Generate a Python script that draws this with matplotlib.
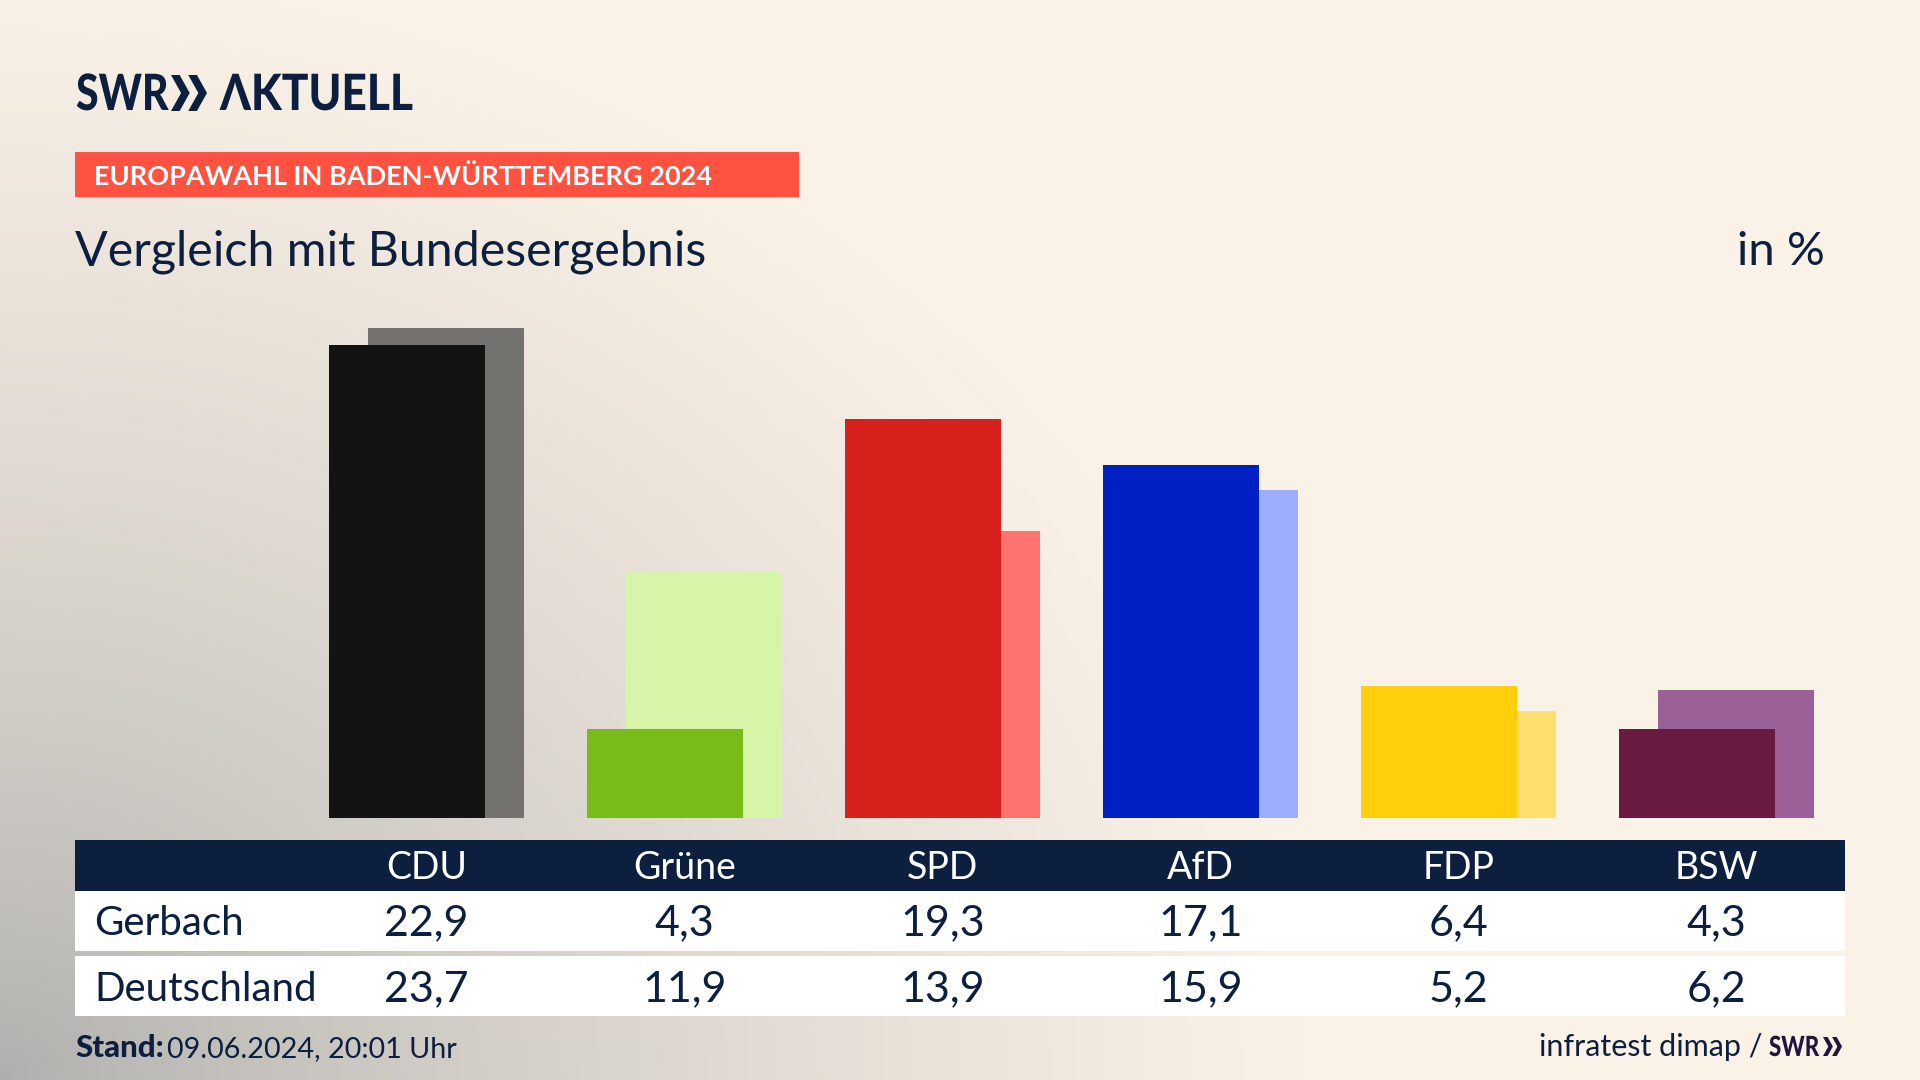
#!/usr/bin/env python3
# SWR Aktuell - Europawahl BW 2024, Gerbach vs. Deutschland

import numpy as np
import matplotlib
matplotlib.use("Agg")
import matplotlib.pyplot as plt
from matplotlib.patches import Rectangle
from matplotlib.patheffects import AbstractPathEffect
from matplotlib.transforms import Affine2D

plt.rcParams["font.family"] = ["Lato", "DejaVu Sans"]

# ----------------------------------------------------------
# DATA
# ----------------------------------------------------------
parties = ["CDU", "Grüne", "SPD", "AfD", "FDP", "BSW"]
gerbach = [22.9, 4.3, 19.3, 17.1, 6.4, 4.3]
deutschland = [23.7, 11.9, 13.9, 15.9, 5.2, 6.2]
colors_front = ["#131313", "#78bc1a", "#d8201d", "#0020c4", "#ffcf0c", "#6a1940"]
colors_back = ["#73726f", "#d7f5a8", "#ff736e", "#9dadff", "#ffe06f", "#9a6097"]
row_names = ["Gerbach", "Deutschland"]

NAVY = "#0c1f3f"
W, H = 1920, 1080
COL0 = 426.7     # px centre of first column
COL_STEP = 258   # px between columns
BASE_Y = 818     # px bar baseline
PX_PER_PCT = 20.66
BAR_W = 156.5


def fmt(v):
    return f"{v:.1f}".replace(".", ",")


class SqueezeX(AbstractPathEffect):
    # Schrift horizontal stauchen (kein Condensed-Font installiert)
    def __init__(self, fx, x0):
        super().__init__()
        self.fx = fx
        self.x0 = x0

    def draw_path(self, renderer, gc, tpath, affine, rgbFace=None):
        squeeze = Affine2D().translate(-self.x0, 0).scale(self.fx, 1).translate(self.x0, 0)
        renderer.draw_path(gc, tpath, affine + squeeze, rgbFace)


fig = plt.figure(figsize=(19.2, 10.8), dpi=100)

# ----------------------------------------------------------
# BACKGROUND
# ----------------------------------------------------------
bg = fig.add_axes([0, 0, 1, 1], zorder=0)
yy, xx = np.mgrid[0:H, 0:W]
d = np.sqrt((xx / 1300) ** 2 + ((H - yy) / 1100) ** 2)
t = np.clip(d, 0, 1)[..., None] ** 0.75
c0 = np.array([0xae, 0xae, 0xac]) / 255
c1 = np.array([0xfb, 0xf2, 0xe7]) / 255
bg.imshow(c0 * (1 - t) + c1 * t, extent=(0, W, H, 0), aspect="auto")
bg.axis("off")

# ----------------------------------------------------------
# BARS
# ----------------------------------------------------------
bars = fig.add_axes([0, 1 - BASE_Y / H, 1, BASE_Y / H], zorder=1)
bars.patch.set_alpha(0)
bars.set_xlim(-COL0 / COL_STEP, (W - COL0) / COL_STEP)
bars.set_ylim(0, BASE_Y / PX_PER_PCT)
x = np.arange(len(parties))
bars.bar(x + 19.5 / COL_STEP, deutschland, width=BAR_W / COL_STEP, color=colors_back)
bars.bar(x - 19.5 / COL_STEP, gerbach, width=BAR_W / COL_STEP, color=colors_front)
bars.axis("off")

# ----------------------------------------------------------
# OVERLAY IN PIXELS
# ----------------------------------------------------------
ax = fig.add_axes([0, 0, 1, 1], zorder=2)
ax.patch.set_alpha(0)
ax.set_xlim(0, W)
ax.set_ylim(H, 0)
ax.axis("off")


def box(x0, y0, x1, y1, color):
    ax.add_patch(Rectangle((x0, y0), x1 - x0, y1 - y0, color=color, lw=0))


def chevrons(x0, y0, h, color):
    # zwei Pfeile des SWR-Logos
    w = h * 0.52
    arm = h * 0.24
    for dx in (0, h * 0.48):
        ax.fill(
            [x0 + dx, x0 + dx + arm, x0 + dx + w, x0 + dx + arm, x0 + dx, x0 + dx + w - arm],
            [y0, y0, y0 + h / 2, y0 + h, y0 + h, y0 + h / 2],
            color=color, lw=0,
        )


# logo
ax.text(76, 110, "SWR", fontsize=36, fontweight="black", color=NAVY,
        path_effects=[SqueezeX(0.82, 76)])
chevrons(171, 75, 36, NAVY)
ax.text(220, 110, "ΛKTUELL", fontsize=36, fontweight="black", color=NAVY,
        path_effects=[SqueezeX(0.885, 220)])

# banner + titles
box(75, 152, 799, 197, "#ff5240")
ax.text(94, 185, "EUROPAWAHL IN BADEN-WÜRTTEMBERG 2024", fontsize=19.5, fontweight="bold", color="white")
ax.text(75, 265, "Vergleich mit Bundesergebnis", fontsize=34.8, color=NAVY)
ax.text(1825, 265, "in %", fontsize=34, color=NAVY, ha="right")

# table
box(75, 840, 1845, 891, NAVY)
box(75, 891, 1845, 951, "white")
box(75, 956, 1845, 1016, "white")
for i, p in enumerate(parties):
    cx = COL0 + COL_STEP * i
    ax.text(cx, 879, p, fontsize=27, color="white", ha="center")
    ax.text(cx, 935, fmt(gerbach[i]), fontsize=31, color=NAVY, ha="center")
    ax.text(cx, 1001, fmt(deutschland[i]), fontsize=31, color=NAVY, ha="center")
ax.text(94, 935, row_names[0], fontsize=29, color=NAVY)
ax.text(94, 1001, row_names[1], fontsize=29, color=NAVY)

# footer
ax.text(75, 1057, "Stand:", fontsize=22.5, fontweight="black", color=NAVY)
ax.text(167, 1057, "09.06.2024, 20:01 Uhr", fontsize=20.7, color=NAVY)
ax.text(1539, 1056, "infratest dimap /", fontsize=22, color=NAVY)
ax.text(1769, 1056, "SWR", fontsize=20, fontweight="black", color="#24123f",
        path_effects=[SqueezeX(0.8, 1769)])
chevrons(1823, 1037, 19, "#24123f")

fig.savefig("out.png", dpi=100)
